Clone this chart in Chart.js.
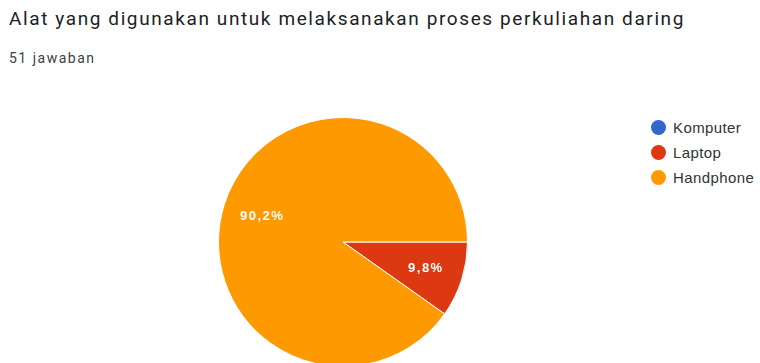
<!DOCTYPE html>
<html>
<head>
<meta charset="utf-8">
<script src="https://cdn.jsdelivr.net/npm/chart.js@4/dist/chart.umd.min.js"></script>
<style>
  html, body { margin:0; padding:0; width:760px; height:363px; overflow:hidden; background:#fff; }
  #title { position:absolute; left:9px; top:7px; font-family:Roboto, "Open Sans", sans-serif; font-size:19px; color:#202124; white-space:nowrap; letter-spacing:1.6px; }
  #sub { position:absolute; left:9px; top:50px; font-family:Roboto, sans-serif; font-size:14px; color:#3c4043; white-space:nowrap; letter-spacing:1.5px; }
  #wrap { position:absolute; left:218px; top:117px; width:250px; height:250px; }
  #legend { position:absolute; left:651px; top:115px; font-family:"Liberation Sans", Arial, sans-serif; font-size:15px; color:#333; letter-spacing:0.4px; }
  .li { height:25px; display:flex; align-items:center; white-space:nowrap; }
  .dot { width:15px; height:15px; border-radius:50%; margin-right:7px; flex:none; }
</style>
</head>
<body>
<div id="title">Alat yang digunakan untuk melaksanakan proses perkuliahan daring</div>
<div id="sub">51 jawaban</div>
<div id="wrap"><canvas id="c"></canvas></div>
<div id="legend"></div>
<script>
const categories = ["Komputer", "Laptop", "Handphone"];
const counts = [0, 5, 46];
const percentLabels = ["0%", "9,8%", "90,2%"];
const colors = ["#3366cc", "#dc3912", "#ff9900"];

const legendEl = document.getElementById('legend');
categories.forEach((c, i) => {
  const row = document.createElement('div');
  row.className = 'li';
  const d = document.createElement('span');
  d.className = 'dot';
  d.style.background = colors[i];
  const t = document.createElement('span');
  t.textContent = c;
  row.appendChild(d); row.appendChild(t);
  legendEl.appendChild(row);
});

const sliceLabels = {
  id: 'sliceLabels',
  afterDatasetsDraw(chart) {
    const ctx = chart.ctx;
    const meta = chart.getDatasetMeta(0);
    ctx.save();
    ctx.fillStyle = '#ffffff';
    ctx.font = 'bold 13px "Liberation Sans", Arial, sans-serif';
    ctx.letterSpacing = '1.5px';
    ctx.textAlign = 'center';
    ctx.textBaseline = 'middle';
    meta.data.forEach((arc, i) => {
      if (!counts[i]) return;
      const p = arc.getProps(['x','y','startAngle','endAngle','outerRadius'], true);
      const mid = (p.startAngle + p.endAngle) / 2;
      const r = p.outerRadius * 0.69;
      ctx.fillText(percentLabels[i], p.x + Math.cos(mid) * r + 1, p.y + Math.sin(mid) * r);
    });
    ctx.restore();
  }
};

new Chart(document.getElementById('c'), {
  type: 'pie',
  data: {
    labels: categories,
    datasets: [{
      data: counts,
      backgroundColor: colors,
      borderColor: '#ffffff',
      borderWidth: 1
    }]
  },
  options: {
    responsive: true,
    maintainAspectRatio: false,
    animation: false,
    rotation: 90,
    layout: { padding: 0 },
    plugins: { legend: { display: false }, tooltip: { enabled: false } }
  },
  plugins: [sliceLabels]
});
</script>
</body>
</html>
